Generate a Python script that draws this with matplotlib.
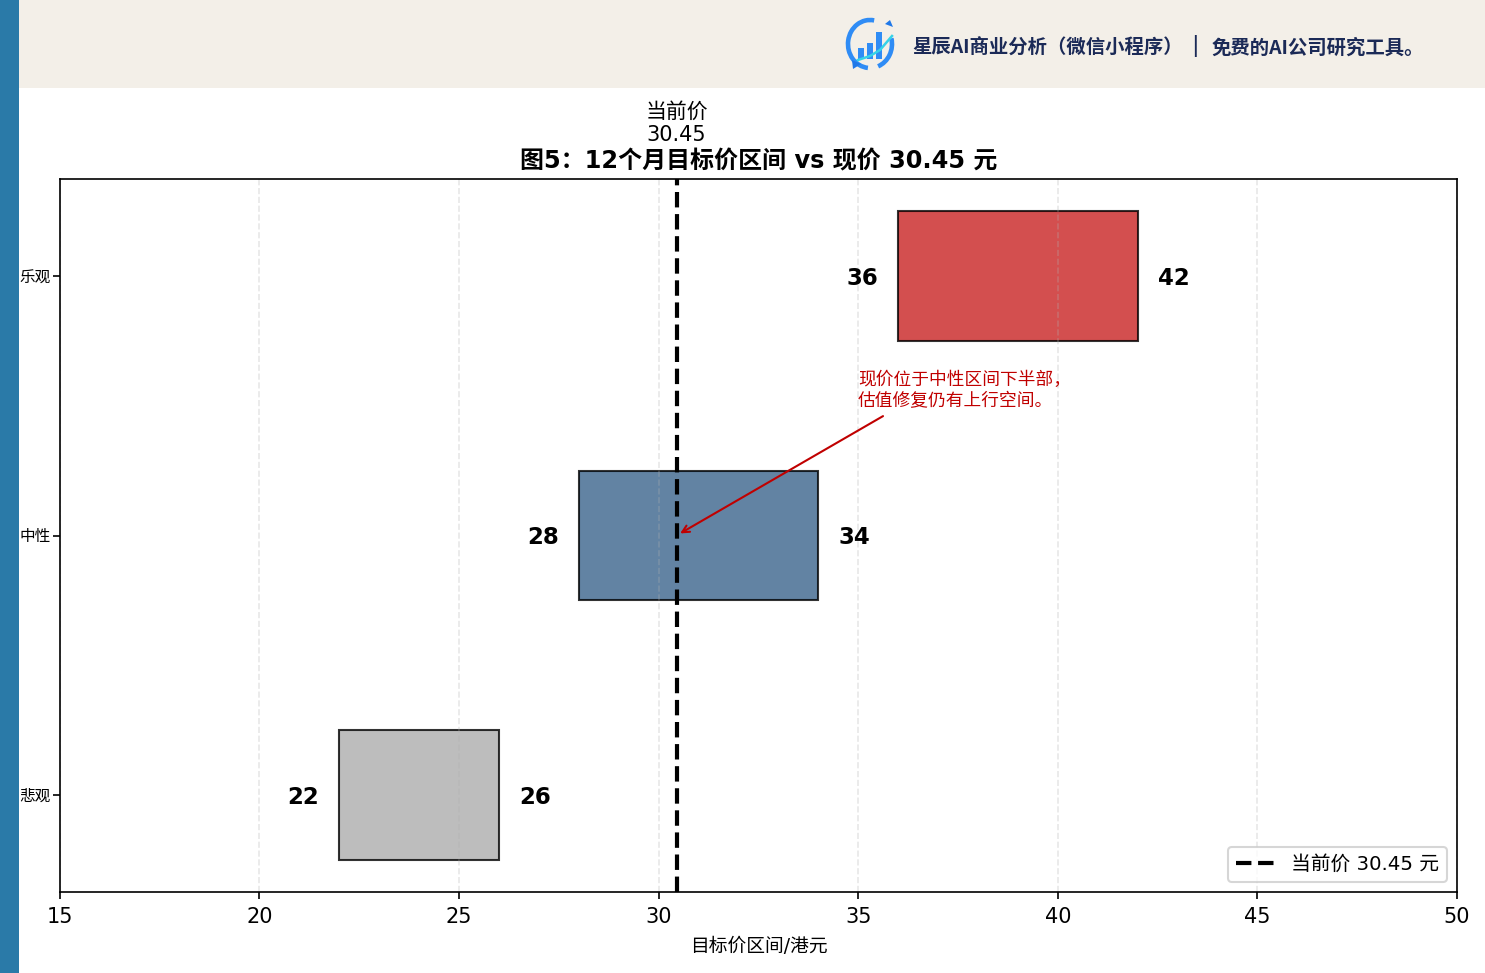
import matplotlib
matplotlib.use("Agg")
import matplotlib.pyplot as plt
from matplotlib.patches import Arc, Rectangle, Polygon

# DejaVu 画拉丁字母和数字，中文走 Noto
plt.rcParams['font.family'] = ['DejaVu Sans', 'Noto Sans CJK SC']

# 情景数据
scenarios = ["悲观", "中性", "乐观"]
low_prices = [22, 28, 36]
high_prices = [26, 34, 42]
bar_colors = ["#ADADAD", "#3B648C", "#C82323"]
current_price = 30.45

W, H, DPI = 1485, 973, 150

fig = plt.figure(figsize=(W / DPI, H / DPI), dpi=DPI)
ax = fig.add_axes([59.7 / W, 1 - 892 / H, 1397.3 / W, 713 / H])

y_pos = list(range(len(scenarios)))
widths = [h - l for l, h in zip(low_prices, high_prices)]
ax.barh(y_pos, widths, left=low_prices, height=0.5, color=bar_colors,
        alpha=0.8, edgecolor="black", linewidth=1)

# 区间两端的数字
for y, l, h in zip(y_pos, low_prices, high_prices):
    ax.text(l - 0.5, y, str(l), ha="right", va="center_baseline", fontsize=11, fontweight="bold")
    ax.text(h + 0.5, y, str(h), ha="left", va="center_baseline", fontsize=11, fontweight="bold")

ax.axvline(current_price, color="black", linestyle="--", linewidth=2,
           label=f"当前价 {current_price} 元")
ax.text(current_price, 2.505, f"当前价\n{current_price}", ha="center", va="bottom", fontsize=10)

ax.annotate("现价位于中性区间下半部，\n估值修复仍有上行空间。",
            xy=(current_price, 1), xytext=(35, 1.5),
            fontsize=8.5, color="#C00000",
            arrowprops=dict(arrowstyle="->", color="#C00000", lw=1, relpos=(0.325, 0.5)))

ax.set_xlim(15, 50)
ax.set_yticks(y_pos)
ax.set_yticklabels(scenarios, fontsize=7.5)
ax.tick_params(axis="y", pad=1)
ax.tick_params(axis="x", labelsize=10)
ax.set_xlabel("目标价区间/港元", fontsize=9, labelpad=5)
ax.set_title("图5：12个月目标价区间 vs 现价 30.45 元", fontsize=11.5, fontweight="bold", pad=5)
ax.grid(axis="x", linestyle="--", alpha=0.3)
ax.legend(loc="lower right", fontsize=9.5)

# 顶部横幅和左侧色条
bg = fig.add_axes([0, 0, 1, 1], zorder=10)
bg.set_xlim(0, W)
bg.set_ylim(H, 0)
bg.axis("off")
bg.add_patch(Rectangle((19, 0), W - 19, 88, color="#F3EFE8", lw=0))
bg.add_patch(Rectangle((0, 0), 19, H, color="#2A7AA8", lw=0))

# 横幅 logo
bg.add_patch(Arc((870, 44), 44, 48, theta1=-15, theta2=70, color="#2F8CF5", lw=2.2))
bg.add_patch(Arc((870, 44), 44, 48, theta1=95, theta2=280, color="#2F8CF5", lw=2.2))
for x0, h0 in [(858, 11), (867, 16), (876, 27)]:
    bg.add_patch(Rectangle((x0, 59 - h0), 6, h0, color="#2F8CF5", lw=0))
bg.plot([858, 870, 880, 892], [60, 56, 50, 36], color="#35D3E8", lw=1.2)
bg.add_patch(Polygon([[885, 24], [890, 20], [893, 27]], color="#1F78E8", lw=0))
bg.add_patch(Polygon([[852, 60], [861, 64], [853, 69]], color="#1F78E8", lw=0))

banner_font = ["Noto Sans CJK SC", "DejaVu Sans"]
bg.text(912, 48, "星辰AI商业分析（微信小程序）", family=banner_font, fontsize=9.3,
        fontweight="bold", color="#1B2A57", va="center")
bg.text(1195, 46, "|", family=banner_font, fontsize=9.3, fontweight="bold", color="#1B2A57", va="center", ha="center")
bg.text(1212, 48, "免费的AI公司研究工具。", family=banner_font, fontsize=9.3,
        fontweight="bold", color="#1B2A57", va="center")

fig.savefig("out.png", dpi=DPI)
